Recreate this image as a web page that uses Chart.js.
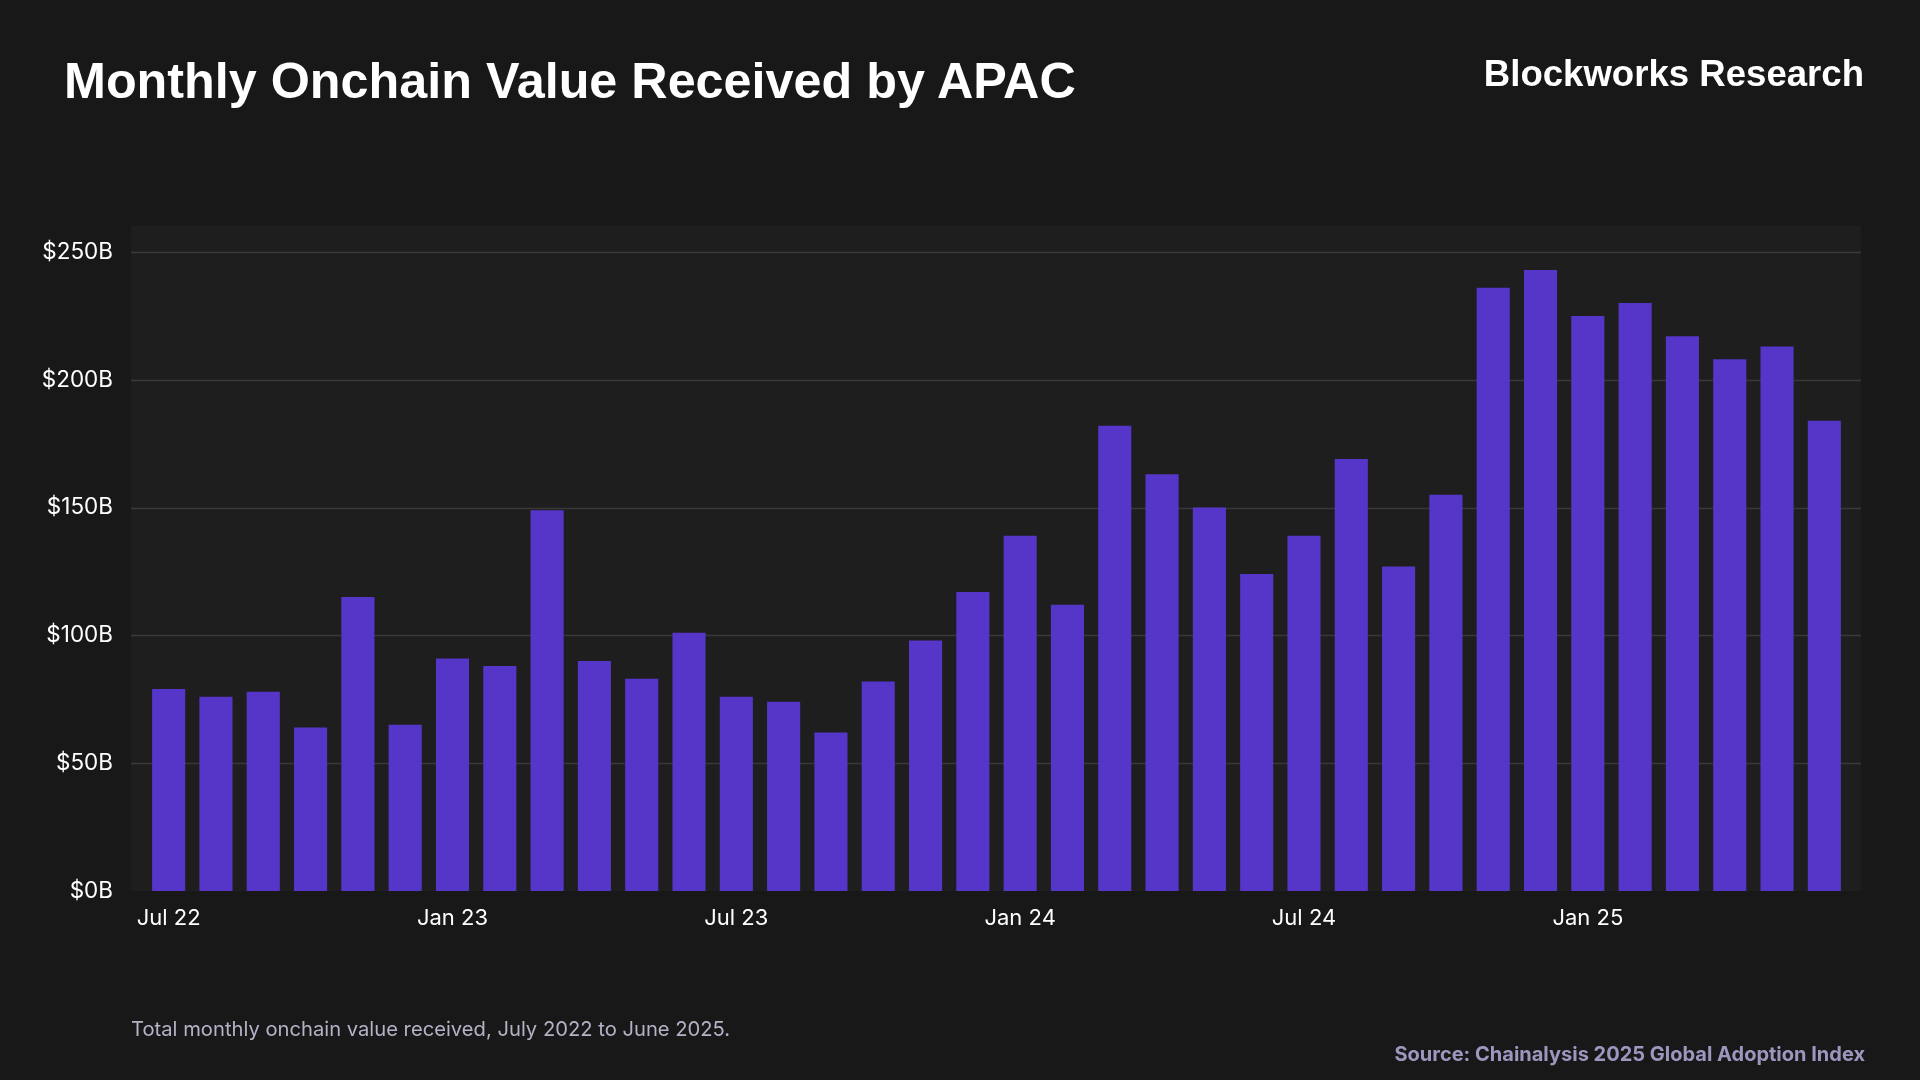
<!DOCTYPE html>
<html>
<head>
<meta charset="utf-8">
<script src="https://cdn.jsdelivr.net/npm/chart.js@4"></script>
<style>
  html, body { margin: 0; padding: 0; background: #181818; }
  #wrap { position: relative; width: 1920px; height: 1080px; overflow: hidden; }
  canvas { position: absolute; left: 0; top: 0; }
  .txt { position: absolute; white-space: nowrap; }
  #title { left: 64px; top: 51px; font: bold 50.3px "Liberation Sans", Arial, sans-serif; color: #ffffff; }
  #brand { right: 56px; top: 53px; font: bold 36.6px "Liberation Sans", Arial, sans-serif; color: #ffffff; }
  #note { left: 131px; top: 1016px; font: 20.2px Inter, sans-serif; color: #b5b1c6; }
  #source { right: 55px; top: 1042px; font: bold 20px Inter, sans-serif; color: #9d97bf; }
</style>
</head>
<body>
<div id="wrap">
  <canvas id="chart" width="1920" height="1080"></canvas>
  <div class="txt" id="title">Monthly Onchain Value Received by APAC</div>
  <div class="txt" id="brand">Blockworks Research</div>
  <div class="txt" id="note">Total monthly onchain value received, July 2022 to June 2025.</div>
  <div class="txt" id="source">Source: Chainalysis 2025 Global Adoption Index</div>
</div>
<script>
// Data (USD billions)
const months = [
  "Jul 22", "Aug 22", "Sep 22", "Oct 22", "Nov 22", "Dec 22",
  "Jan 23", "Feb 23", "Mar 23", "Apr 23", "May 23", "Jun 23",
  "Jul 23", "Aug 23", "Sep 23", "Oct 23", "Nov 23", "Dec 23",
  "Jan 24", "Feb 24", "Mar 24", "Apr 24", "May 24", "Jun 24",
  "Jul 24", "Aug 24", "Sep 24", "Oct 24", "Nov 24", "Dec 24",
  "Jan 25", "Feb 25", "Mar 25", "Apr 25", "May 25", "Jun 25"
];
const valueReceived = [
  79, 76, 78, 64, 115, 65,
  91, 88, 149, 90, 83, 101,
  76, 74, 62, 82, 98, 117,
  139, 112, 182, 163, 150, 124,
  139, 169, 127, 155, 236, 243,
  225, 230, 217, 208, 213, 184
];
const yTicks = [0, 50, 100, 150, 200, 250];

// Plot background + horizontal grid, spanning a little past the bars
const plotBackground = {
  id: "plotBackground",
  beforeDatasetsDraw(chart) {
    const { ctx, chartArea } = chart;
    const y = chart.scales.y;
    const left = chartArea.left - 14;
    const right = chartArea.right + 13;
    ctx.save();
    ctx.fillStyle = "#1e1e1e";
    ctx.fillRect(left, chartArea.top - 26, right - left, chartArea.bottom - chartArea.top + 26);
    ctx.strokeStyle = "#383838";
    ctx.lineWidth = 1.5;
    yTicks.forEach(v => {
      if (v === 0) return;
      const py = Math.round(y.getPixelForValue(v)) + 0.5;
      ctx.beginPath();
      ctx.moveTo(left, py);
      ctx.lineTo(right, py);
      ctx.stroke();
    });
    ctx.restore();
  }
};

const ctx = document.getElementById("chart").getContext("2d");
new Chart(ctx, {
  type: "bar",
  data: {
    labels: months,
    datasets: [{
      data: valueReceived,
      backgroundColor: "#5536c8",
      borderWidth: 0,
      barPercentage: 0.7,
      categoryPercentage: 1.0
    }]
  },
  options: {
    responsive: false,
    animation: false,
    layout: { padding: { left: 0, right: 72, top: 252, bottom: 129 } },
    plugins: { legend: { display: false }, tooltip: { enabled: false } },
    scales: {
      x: {
        grid: { display: false, drawTicks: false },
        border: { display: false },
        afterFit(scale) { scale.height = 60; },
        ticks: {
          color: "#ffffff",
          font: { family: "Inter", size: 22 },
          padding: 14,
          autoSkip: false,
          maxRotation: 0,
          callback(value, index) {
            return index % 6 === 0 ? months[index] : "";
          }
        }
      },
      y: {
        min: 0,
        max: 250,
        grid: { display: false, drawTicks: false },
        border: { display: false },
        afterFit(scale) { scale.width = 145; },
        afterBuildTicks(scale) {
          scale.ticks = yTicks.map(v => ({ value: v }));
        },
        ticks: {
          color: "#ffffff",
          font: { family: "Inter", size: 22.5 },
          padding: 32,
          callback(value) { return "$" + value + "B"; }
        }
      }
    }
  },
  plugins: [plotBackground]
});
</script>
</body>
</html>
